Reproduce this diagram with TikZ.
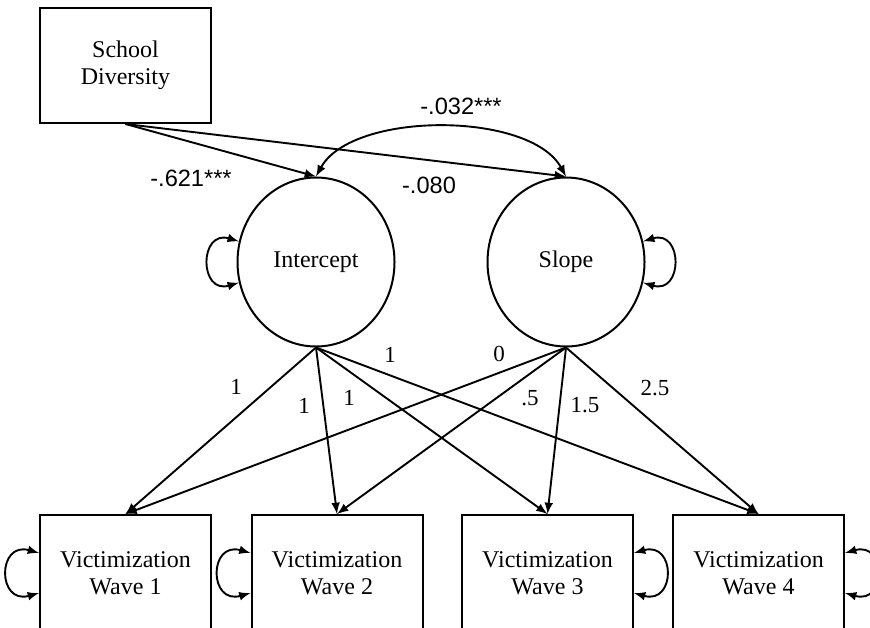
\documentclass[tikz,border=0pt]{standalone}
\usepackage{fontspec}
\setmainfont{Liberation Serif}
\newfontfamily\coeffont{Liberation Sans}
\usetikzlibrary{arrows,shapes.geometric}

\tikzset{
  obs/.style={draw, line width=1pt, minimum width=85.5pt, minimum height=58pt,
    align=center, font=\fontsize{12}{13.6}\selectfont},
  lat/.style={draw, ellipse, line width=1pt, minimum width=78.5pt,
    minimum height=84.5pt, font=\fontsize{12}{13.6}\selectfont},
  reg/.style={-latex, line width=0.95pt},
  twoway/.style={latex-latex, line width=0.95pt},
  coef/.style={font=\coeffont\fontsize{11.8}{13.6}\selectfont},
  lnum/.style={font=\fontsize{11.5}{13.6}\selectfont}
}

\begin{document}
\begin{tikzpicture}[x=0.5pt, y=-0.5pt]
        \useasboundingbox (0,0) rectangle (870,627);
        \clip (0,0) rectangle (870,627);

        % predictor and growth factors
        \node[obs, minimum height=57.5pt] (div) at (125.5,65.5) {School\\Diversity};
        \node[lat] (int) at (316,262) {Intercept};
        \node[lat] (slp) at (566,262) {Slope};

        % repeated measures
        \node[obs] (w1) at (125.5,573) {Victimization\\Wave 1};
        \node[obs] (w2) at (337,573) {Victimization\\Wave 2};
        \node[obs] (w3) at (547.5,573) {Victimization\\Wave 3};
        \node[obs] (w4) at (758.5,573) {Victimization\\Wave 4};

        % regressions
        \draw[reg] (div.south) -- (int.north);
        \draw[reg] (div.south) -- (slp.north);
        \node[coef] (b1) at (191,178) {-.621***};
        \node[coef] (b2) at (429,185) {-.080};

        % covariance
        \draw[twoway] (int.north) .. controls (352,111) and (530,111) .. (slp.north);
        \node[coef] (c1) at (461,106) {-.032***};

        % variances
        \draw[twoway] (int.165) .. controls +(-40,-12) and +(-40,12) .. (int.195);
        \draw[twoway] (slp.15) .. controls +(40,-12) and +(40,12) .. (slp.-15);
        \draw[twoway] ([yshift=10pt]w1.west) .. controls +(-42,-12) and +(-42,12) .. ([yshift=-10pt]w1.west);
        \draw[twoway] ([yshift=10pt]w2.west) .. controls +(-42,-12) and +(-42,12) .. ([yshift=-10pt]w2.west);
        \draw[twoway] ([yshift=10pt]w3.east) .. controls +(42,-12) and +(42,12) .. ([yshift=-10pt]w3.east);
        \draw[twoway] ([yshift=10pt]w4.east) .. controls +(42,-12) and +(42,12) .. ([yshift=-10pt]w4.east);

        % loadings
        \foreach \w in {w1,w2,w3,w4} {
            \draw[reg] (int.south) -- (\w.north);
            \draw[reg] (slp.south) -- (\w.north);
        }
        \node[lnum] (i1) at (236,387) {1};
        \node[lnum] (i2) at (304,406) {1};
        \node[lnum] (i3) at (349,398) {1};
        \node[lnum] (i4) at (390,355) {1};
        \node[lnum] (s1) at (499,354) {0};
        \node[lnum] (s2) at (530,398) {.5};
        \node[lnum] (s3) at (585,405) {1.5};
        \node[lnum] (s4) at (655,388) {2.5};

    \end{tikzpicture}
\end{document}
